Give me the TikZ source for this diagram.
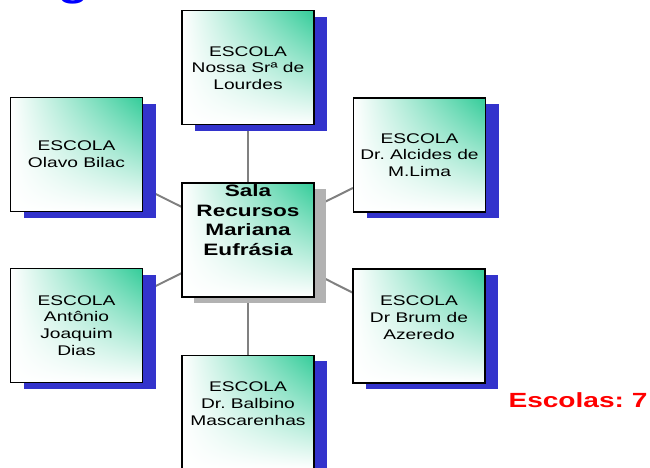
\documentclass[tikz,border=0pt]{standalone}
\usepackage{fontspec}
\setmainfont{Liberation Sans}
\newfontfamily\widefont[FakeStretch=1.37]{Liberation Sans}
\usetikzlibrary{positioning,shadows,shadings,backgrounds}
\frenchspacing

\definecolor{escgreen}{RGB}{51,204,153}
\definecolor{escblue}{RGB}{51,51,204}
\definecolor{salagray}{RGB}{178,178,178}
\definecolor{linkgray}{RGB}{128,128,128}

\begin{document}
\begin{tikzpicture}[x=1pt, y=1pt,
        boxbase/.style = {draw, line width=1.1pt, minimum width=132pt, minimum height=114pt,
                          align=center, shade, upper right=escgreen, upper left=white,
                          lower left=white, lower right=white},
        escola/.style = {boxbase, font=\widefont\fontsize{14}{16.7}\selectfont,
                         drop shadow={shadow xshift=13pt, shadow yshift=-6pt, fill=escblue, opacity=1}},
        sala/.style = {boxbase,
                       drop shadow={shadow xshift=12pt, shadow yshift=-6pt, fill=salagray, opacity=1}},
        salatxt/.style = {align=center, font=\widefont\bfseries\fontsize{16.5}{19.5}\selectfont},
        link/.style = {draw=linkgray, line width=2pt}
    ]
    \path[use as bounding box, clip] (0,0) rectangle (650,467);
    % title letter cut off at the top
    \node[anchor=base west, inner sep=0pt, text=blue, font=\widefont\bfseries\fontsize{36}{36}\selectfont] (title) at (58,470.5) {g};
    % centre
    \node[sala] (centre) at (248,227) {};
    \node[salatxt] (centre-lbl) at ([yshift=20pt] centre.center) {Sala\\Recursos\\Mariana\\Eufrásia};
    % schools
    \node[escola, above=57pt of centre] (sra) {ESCOLA\\Nossa Srª de\\Lourdes};
    \node[escola, below=57pt of centre] (balbino) {ESCOLA\\Dr. Balbino\\Mascarenhas\\~};
    \node[escola] (olavo) at (76.5,312.5) {ESCOLA\\Olavo Bilac};
    \node[escola] (alcides) at (419.5,312) {ESCOLA\\Dr. Alcides de\\M.Lima};
    \node[escola] (antonio) at (76.5,141.5) {ESCOLA\\Antônio\\Joaquim\\Dias};
    \node[escola] (brum) at (419,141) {ESCOLA\\Dr Brum de\\Azeredo\\~};
    \begin{scope}[on background layer]
        \foreach \s in {sra,balbino,olavo,alcides,antonio,brum}
            \draw[link] (centre) -- (\s);
    \end{scope}
    \node[anchor=base, text=red, font=\widefont\bfseries\fontsize{20.5}{24}\selectfont] (total) at (578,60) {Escolas: 7};
\end{tikzpicture}
\end{document}
